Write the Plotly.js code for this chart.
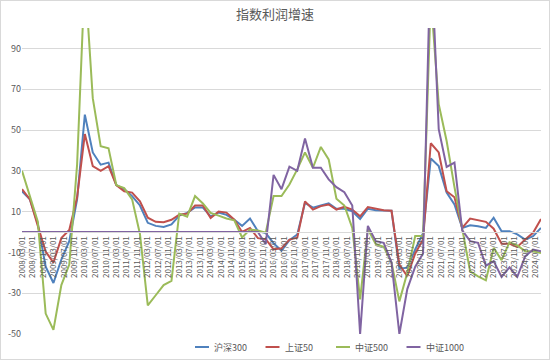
<!DOCTYPE html>
<html>
<head>
<meta charset="utf-8">
<script src="https://cdn.plot.ly/plotly-3.0.1.min.js"></script>
<style>
html,body{margin:0;padding:0;background:#fff;}
#wrap{width:548px;height:358px;border:1px solid #D9D9D9;}
#chart{width:548px;height:358px;}
</style>
</head>
<body>
<div id="wrap"><div id="chart"></div></div>
<script>
// quarterly report dates (shown on a monthly date axis)
const dates = [
"2008-03-01","2008-06-01","2008-09-01","2008-12-01","2009-03-01","2009-06-01","2009-09-01","2009-12-01",
"2010-03-01","2010-06-01","2010-09-01","2010-12-01","2011-03-01","2011-06-01","2011-09-01","2011-12-01",
"2012-03-01","2012-06-01","2012-09-01","2012-12-01","2013-03-01","2013-06-01","2013-09-01","2013-12-01",
"2014-03-01","2014-06-01","2014-09-01","2014-12-01","2015-03-01","2015-06-01","2015-09-01","2015-12-01",
"2016-03-01","2016-06-01","2016-09-01","2016-12-01","2017-03-01","2017-06-01","2017-09-01","2017-12-01",
"2018-03-01","2018-06-01","2018-09-01","2018-12-01","2019-03-01","2019-06-01","2019-09-01","2019-12-01",
"2020-03-01","2020-06-01","2020-09-01","2020-12-01","2021-03-01","2021-06-01","2021-09-01","2021-12-01",
"2022-03-01","2022-06-01","2022-09-01","2022-12-01","2023-03-01","2023-06-01","2023-09-01","2023-12-01",
"2024-03-01","2024-06-01","2024-09-01"];

const hs300 = [20,16,4,-17,-25,-13.5,-4.5,16,57.5,39,33,34,23,21,17.6,13,
4.5,3,2.5,3.7,8,9.4,12,12,7.7,9.5,8.4,6,3,6.6,0.4,-0.5,
-5.5,-9.2,-4,-1.2,14.3,11.9,13,14,11.4,11.4,10.2,6.4,11.4,10.7,10.5,10.4,
-18,-17.5,-8.6,-0.6,36,32.3,19.3,13.5,2,3.3,2.8,2,7,0.4,0.4,-1.2,-3.7,-2,2];

const sz50 = [21,16,3,-9.6,-15,-3,1,17,48,32.3,30,32.3,23,20,19.3,15,
7,5,4.8,6,8.5,9,13,13,6.9,10,9.5,6,0,2,-3,-3.5,
-8.5,-8,-3.7,-2.8,15,11,12.7,13.5,11,12.4,11,7.7,12.2,11.5,10.7,10.4,
-16,-21.7,-10.5,-3.7,43.5,39,20,17,2,6.6,5.8,5,1.6,-5.7,-5.7,-7.3,-3.7,-0.4,6.4];

const zz500 = [30,18,5,-40,-48,-26,-16,33,126,65.6,42,41,23,21.5,16,-1,
-36,-31,-26,-24,9,7.5,17.6,14,9.4,8,6.6,5.7,-2.7,1.2,0.8,-0.3,
17.6,17.6,23.3,30.7,39,31.5,41.7,35.6,16.3,13,2,-33,1.5,-6,-7.3,-15,
-34,-20,-2,-2,115,62.7,44.6,22,2,-19.3,-21.7,-23.7,-7.8,-13.8,-5,-6.6,-9.4,-9.4,-10.3];

const zz1000 = [0,0,0,0,0,0,0,0,0,0,0,0,0,0,0,0,
0,0,0,0,0,0,0,0,0,0,0,0,0,0,0,-6,
28,21,32,30,45.8,31.5,31.5,25.8,22,19.5,13,-50,3,-4.5,-5.3,-15,
-50,-28,-17,-10.5,140,50.4,31.9,34,0.8,-4.5,-5.3,-16.5,-14.3,-22,-17.3,-22,-11.9,-8.6,-9.4];

const seriesNames = ["沪深300","上证50","中证500","中证1000"];
const seriesColors = ["#4F81BD","#C0504D","#9BBB59","#8064A2"];

const tickLabels = [
"2008/03/01","2008/07/01","2008/11/01","2009/03/01","2009/07/01","2009/11/01",
"2010/03/01","2010/07/01","2010/11/01","2011/03/01","2011/07/01","2011/11/01",
"2012/03/01","2012/07/01","2012/11/01","2013/03/01","2013/07/01","2013/11/01",
"2014/03/01","2014/07/01","2014/11/01","2015/03/01","2015/07/01","2015/11/01",
"2016/03/01","2016/07/01","2016/11/01","2017/03/01","2017/07/01","2017/11/01",
"2018/03/01","2018/07/01","2018/11/01","2019/03/01","2019/07/01","2019/11/01",
"2020/03/01","2020/07/01","2020/11/01","2021/03/01","2021/07/01","2021/11/01",
"2022/03/01","2022/07/01","2022/11/01","2023/03/01","2023/07/01","2023/11/01",
"2024/03/01","2024/07/01"];
const yTicks = [-50,-30,-10,10,30,50,70,90];

const values = [hs300, sz50, zz500, zz1000];
const traces = values.map((v,i)=>({
  x: dates, y: v, type:'scatter', mode:'lines', name: seriesNames[i],
  line:{color: seriesColors[i], width:2}
}));

// legend drawn as line samples + text below the plot (Excel-style compact legend)
const plotL = 22, plotW = 519, plotB = 334, plotH = 306;
const legendY = (plotB - 347) / plotH;
const legendStart = 195, legendStep = 70.5;
const shapes = [], annotations = [];
seriesNames.forEach((n,i)=>{
  const x0 = legendStart + i*legendStep;
  shapes.push({type:'line', xref:'paper', yref:'paper',
    x0:(x0-plotL)/plotW, x1:(x0+14-plotL)/plotW, y0:legendY, y1:legendY,
    line:{color:seriesColors[i], width:2}});
  annotations.push({xref:'paper', yref:'paper', x:(x0+17-plotL)/plotW, y:legendY,
    xanchor:'left', yanchor:'middle', text:n, showarrow:false,
    font:{size:9, color:'#595959'}});
});

const font = '"Noto Sans CJK SC","Noto Sans",sans-serif';
const layout = {
  width:548, height:358,
  margin:{l:21, r:8, t:27, b:25},
  paper_bgcolor:'#fff', plot_bgcolor:'#fff',
  font:{family:font, color:'#595959', size:9},
  title:{text:'指数利润增速', x:0.5, xref:'container', y:1-13/358, yref:'container', yanchor:'middle',
         font:{family:font, size:13, color:'#595959'}},
  showlegend:false,
  shapes: shapes, annotations: annotations,
  xaxis:{type:'date', range:['2008-03-01','2024-09-01'],
         tickmode:'array', tickvals: tickLabels.map(s=>s.replace(/\//g,'-')), ticktext: tickLabels,
         tickangle:-90, tickfont:{size:8, color:'#595959'},
         anchor:'free', position:1/3, showline:true, linecolor:'#D9D9D9', linewidth:1,
         showgrid:false, zeroline:false, ticks:'', fixedrange:true},
  yaxis:{range:[-50,100], tickmode:'array', tickvals:yTicks, ticktext:yTicks.map(String),
         showgrid:true, gridcolor:'#D9D9D9', gridwidth:1, zeroline:false, showline:false,
         tickfont:{size:9, color:'#595959'}, ticks:'', fixedrange:true}
};
Plotly.newPlot('chart', traces, layout, {displayModeBar:false, staticPlot:true});
</script>
</body>
</html>
